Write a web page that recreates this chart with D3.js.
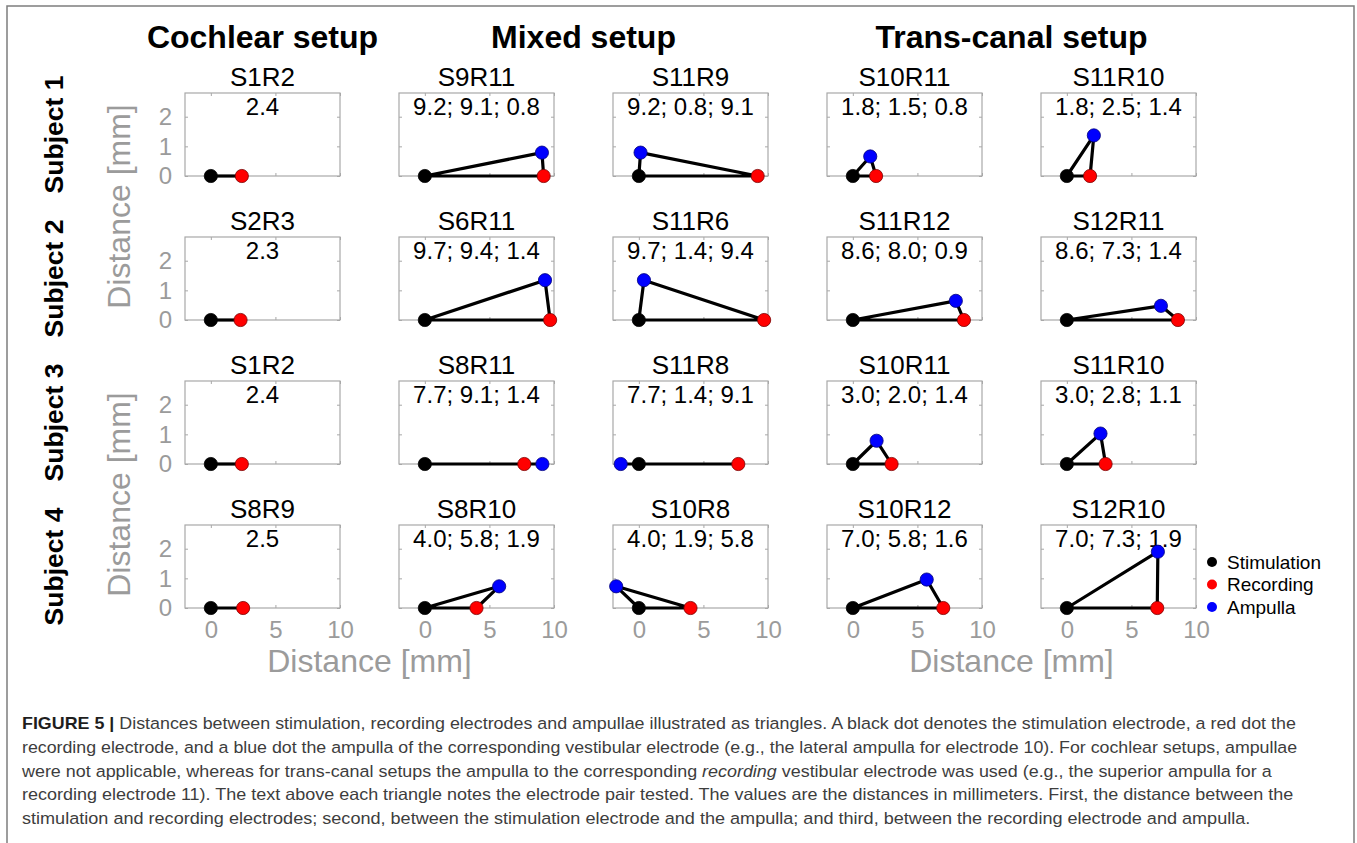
<!DOCTYPE html>
<html>
<head>
<meta charset="utf-8">
<script src="https://cdn.jsdelivr.net/npm/d3@7"></script>
<style>
  html, body { margin: 0; padding: 0; background: #fff; }
  svg { display: block; }
  text { font-family: "Liberation Sans", Arial, Helvetica, sans-serif; }
</style>
</head>
<body>
<svg id="fig" width="1357" height="843"></svg>
<script>
// ---- Data -------------------------------------------------------------
const setups = ["Cochlear setup", "Mixed setup", "Trans-canal setup"];
const setupOfColumn = [0, 1, 1, 2, 2];
const subjects = ["Subject 1", "Subject 2", "Subject 3", "Subject 4"];

// electrode pair tested in each panel (rows = subjects, columns = panels)
const pairNames = [
  ["S1R2", "S9R11", "S11R9", "S10R11", "S11R10"],
  ["S2R3", "S6R11", "S11R6", "S11R12", "S12R11"],
  ["S1R2", "S8R11", "S11R8", "S10R11", "S11R10"],
  ["S8R9", "S8R10", "S10R8", "S10R12", "S12R10"]
];
// distance stimulation–recording electrode [mm]
const distStimRec = [
  [2.4, 9.2, 9.2, 1.8, 1.8],
  [2.3, 9.7, 9.7, 8.6, 8.6],
  [2.4, 7.7, 7.7, 3.0, 3.0],
  [2.5, 4.0, 4.0, 7.0, 7.0]
];
// distance stimulation electrode–ampulla [mm] (not applicable for cochlear setups)
const distStimAmp = [
  [null, 9.1, 0.8, 1.5, 2.5],
  [null, 9.4, 1.4, 8.0, 7.3],
  [null, 9.1, 1.4, 2.0, 2.8],
  [null, 5.8, 1.9, 5.8, 7.3]
];
// distance recording electrode–ampulla [mm]
const distRecAmp = [
  [null, 0.8, 9.1, 0.8, 1.4],
  [null, 1.4, 9.4, 0.9, 1.4],
  [null, 1.4, 9.1, 1.4, 1.1],
  [null, 1.9, 5.8, 1.6, 1.9]
];

const xTicks = [0, 5, 10];
const yTicks = [0, 1, 2];
const xDomain = [-2, 10];
const yDomain = [0, 2.8];
const legendLabels = ["Stimulation", "Recording", "Ampulla"];
const axisLabel = "Distance [mm]";

// ---- Layout -----------------------------------------------------------
const colLeft0 = 185, colStep = 214, boxW = 155;
const rowTop0 = 93, rowStep = 144, boxH = 83;
const colLeft = j => colLeft0 + j * colStep;
const rowTop = i => rowTop0 + i * rowStep;

const pointColors = ["#000000", "#ff0000", "#0000ff"];
const pointEdges = ["#000000", "#7a0000", "#00007a"];
const gray = "#9b9b9b";
const boxGray = "#a8a8a8";

const svg = d3.select("#fig");

// outer frame
svg.append("rect")
  .attr("x", 7).attr("y", 6)
  .attr("width", 1347).attr("height", 900)
  .attr("fill", "none").attr("stroke", "#7d7d7d").attr("stroke-width", 1.5);

const x = d3.scaleLinear().domain(xDomain).range([0, boxW]);
const y = d3.scaleLinear().domain(yDomain).range([boxH, 0]);

// places the ampulla from the three side lengths of the triangle
function trianglePoints(sr, sa, ra) {
  const pts = [[0, 0], [sr, 0]];
  if (sa != null) {
    const ax = (sr * sr + sa * sa - ra * ra) / (2 * sr);
    const ay = Math.sqrt(Math.max(0, sa * sa - ax * ax));
    pts.push([ax, ay]);
  }
  return pts;
}

// ---- Column headers -----------------------------------------------------
setups.forEach((name, s) => {
  const cols = setupOfColumn.map((v, j) => v === s ? j : -1).filter(j => j >= 0);
  const cx = (colLeft(cols[0]) + colLeft(cols[cols.length - 1]) + boxW) / 2;
  svg.append("text")
    .attr("x", cx).attr("y", 48)
    .attr("text-anchor", "middle")
    .attr("font-size", 32).attr("font-weight", "bold")
    .attr("fill", "#000")
    .text(name);
});

// ---- Row labels ----------------------------------------------------------
subjects.forEach((name, i) => {
  const cy = rowTop(i) + boxH / 2;
  svg.append("text")
    .attr("transform", `translate(63,${cy}) rotate(-90)`)
    .attr("text-anchor", "middle")
    .attr("font-size", 26.5).attr("font-weight", "bold")
    .attr("fill", "#000")
    .text(name);
});

// y-axis labels, one per pair of rows
[0, 2].forEach(i => {
  const cy = (rowTop(i) + rowTop(i + 1) + boxH) / 2;
  svg.append("text")
    .attr("transform", `translate(130,${cy}) rotate(-90)`)
    .attr("text-anchor", "middle")
    .attr("font-size", 32)
    .attr("fill", gray)
    .text(axisLabel);
});

// x-axis labels, one per pair of columns
[0, 3].forEach(j => {
  const cx = (colLeft(j) + colLeft(j + 1) + boxW) / 2;
  svg.append("text")
    .attr("x", cx).attr("y", rowTop(3) + boxH + 64)
    .attr("text-anchor", "middle")
    .attr("font-size", 32)
    .attr("fill", gray)
    .text(axisLabel);
});

// ---- Panels ---------------------------------------------------------------
pairNames.forEach((row, i) => {
  row.forEach((pair, j) => {
    const g = svg.append("g").attr("transform", `translate(${colLeft(j)},${rowTop(i)})`);

    // inner tick marks on all four sides
    const tickStyle = sel => {
      sel.select(".domain").remove();
      sel.selectAll(".tick line").attr("stroke", boxGray).attr("stroke-width", 1);
      sel.selectAll(".tick text").remove();
    };
    g.append("g").attr("transform", `translate(0,${boxH})`)
      .call(d3.axisBottom(x).tickValues(xTicks).tickSize(-3)).call(tickStyle);
    g.append("g")
      .call(d3.axisTop(x).tickValues(xTicks).tickSize(-3)).call(tickStyle);
    g.append("g")
      .call(d3.axisLeft(y).tickValues(yTicks).tickSize(-3)).call(tickStyle);
    g.append("g").attr("transform", `translate(${boxW},0)`)
      .call(d3.axisRight(y).tickValues(yTicks).tickSize(-3)).call(tickStyle);

    // axes box
    g.append("rect")
      .attr("x", 0).attr("y", 0).attr("width", boxW).attr("height", boxH)
      .attr("fill", "none").attr("stroke", boxGray).attr("stroke-width", 1.2);

    // tick labels on the outer panels only
    const labelStyle = sel => {
      sel.select(".domain").remove();
      sel.selectAll(".tick line").remove();
      sel.selectAll(".tick text")
        .attr("fill", gray)
        .style("font-family", '"Liberation Sans", Arial, sans-serif')
        .style("font-size", "24px");
    };
    if (j === 0) {
      g.append("g")
        .call(d3.axisLeft(y).tickValues(yTicks).tickFormat(d3.format("d"))
          .tickSize(0).tickPadding(13))
        .call(labelStyle);
    }
    if (i === pairNames.length - 1) {
      g.append("g").attr("transform", `translate(0,${boxH})`)
        .call(d3.axisBottom(x).tickValues(xTicks).tickFormat(d3.format("d"))
          .tickSize(0).tickPadding(13))
        .call(labelStyle);
    }

    // panel title
    svg.append("text")
      .attr("x", colLeft(j) + boxW / 2).attr("y", rowTop(i) - 7)
      .attr("text-anchor", "middle")
      .attr("font-size", 26)
      .attr("fill", "#000")
      .text(pair);

    // distances written inside the panel
    const sr = distStimRec[i][j], sa = distStimAmp[i][j], ra = distRecAmp[i][j];
    const values = [sr, sa, ra].filter(v => v != null).map(v => v.toFixed(1)).join("; ");
    g.append("text")
      .attr("x", boxW / 2).attr("y", 22)
      .attr("text-anchor", "middle")
      .attr("font-size", 24)
      .attr("fill", "#000")
      .text(values);

    // triangle
    const pts = trianglePoints(sr, sa, ra);
    const line = d3.line().x(d => x(d[0])).y(d => y(d[1]));
    g.append("path")
      .attr("d", pts.length === 3 ? line(pts) + "Z" : line(pts))
      .attr("fill", "none")
      .attr("stroke", "#000")
      .attr("stroke-width", 3.2)
      .attr("stroke-linejoin", "round");

    g.selectAll("circle.pt").data(pts).join("circle")
      .attr("class", "pt")
      .attr("cx", d => x(d[0])).attr("cy", d => y(d[1]))
      .attr("r", 6.6)
      .attr("fill", (d, k) => pointColors[k])
      .attr("stroke", (d, k) => pointEdges[k])
      .attr("stroke-width", 0.8);
  });
});

// ---- Legend ----------------------------------------------------------------
const legend = svg.append("g").attr("transform", "translate(1212,562)");
legendLabels.forEach((name, k) => {
  legend.append("circle")
    .attr("cx", 0).attr("cy", k * 22.5).attr("r", 5)
    .attr("fill", pointColors[k]);
  legend.append("text")
    .attr("x", 15).attr("y", k * 22.5)
    .attr("dy", "0.35em")
    .attr("font-size", 19)
    .attr("fill", "#000")
    .text(name);
});

// ---- Caption -------------------------------------------------------------------
const captionLines = [
  [{t: "FIGURE 5 | ", b: true}, {t: "Distances between stimulation, recording electrodes and ampullae illustrated as triangles. A black dot denotes the stimulation electrode, a red dot the"}],
  [{t: "recording electrode, and a blue dot the ampulla of the corresponding vestibular electrode (e.g., the lateral ampulla for electrode 10). For cochlear setups, ampullae"}],
  [{t: "were not applicable, whereas for trans-canal setups the ampulla to the corresponding "}, {t: "recording", i: true}, {t: " vestibular electrode was used (e.g., the superior ampulla for a"}],
  [{t: "recording electrode 11). The text above each triangle notes the electrode pair tested. The values are the distances in millimeters. First, the distance between the"}],
  [{t: "stimulation and recording electrodes; second, between the stimulation electrode and the ampulla; and third, between the recording electrode and ampulla."}]
];
const captionWidths = [1275, 1276, 1250, 1272, 1229];
const captionX = 22, captionY0 = 729, captionStep = 23.75;

captionLines.forEach((parts, k) => {
  const t = svg.append("text")
    .attr("font-size", 16.5)
    .attr("fill", "#3d3d3d");
  parts.forEach(p => {
    t.append("tspan")
      .attr("font-weight", p.b ? "bold" : null)
      .attr("font-style", p.i ? "italic" : null)
      .attr("fill", p.b ? "#1e1e1e" : null)
      .text(p.t);
  });
  const w = t.node().getComputedTextLength();
  const sx = captionWidths[k] / w;
  t.attr("transform", `translate(${captionX},${captionY0 + k * captionStep}) scale(${sx},1)`);
});
</script>
</body>
</html>
